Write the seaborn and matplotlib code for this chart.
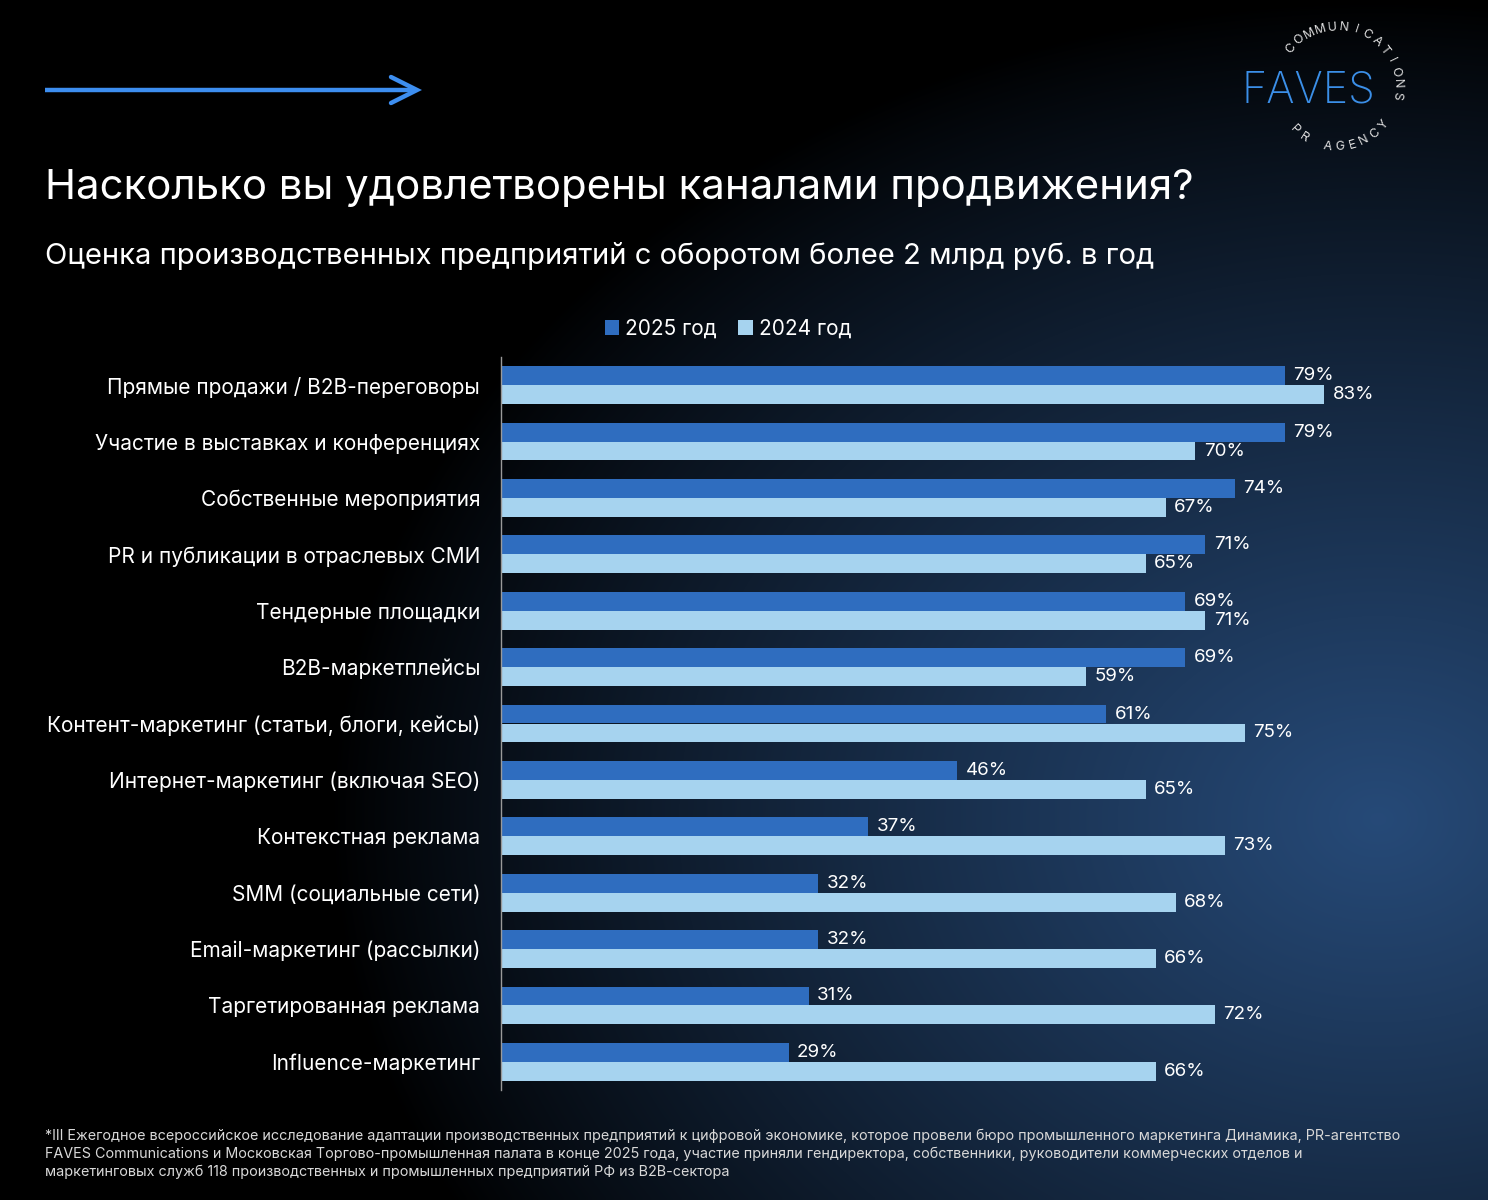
import numpy as np
import pandas as pd
import matplotlib
matplotlib.use("Agg")
import matplotlib.pyplot as plt
import seaborn as sns

channels = [
    "Прямые продажи / B2B-переговоры",
    "Участие в выставках и конференциях",
    "Собственные мероприятия",
    "PR и публикации в отраслевых СМИ",
    "Тендерные площадки",
    "B2B-маркетплейсы",
    "Контент-маркетинг (статьи, блоги, кейсы)",
    "Интернет-маркетинг (включая SEO)",
    "Контекстная реклама",
    "SMM (социальные сети)",
    "Email-маркетинг (рассылки)",
    "Таргетированная реклама",
    "Influence-маркетинг",
]
vals_2025 = [79, 79, 74, 71, 69, 69, 61, 46, 37, 32, 32, 31, 29]
vals_2024 = [83, 70, 67, 65, 71, 59, 75, 65, 73, 68, 66, 72, 66]
years = ["2025 год", "2024 год"]

df = pd.DataFrame({
    "channel": channels * 2,
    "value": vals_2025 + vals_2024,
    "year": [years[0]] * len(channels) + [years[1]] * len(channels),
})

title = "Насколько вы удовлетворены каналами продвижения?"
subtitle = "Оценка производственных предприятий с оборотом более 2 млрд руб. в год"
footnote = [
    "*III Ежегодное всероссийское исследование адаптации производственных предприятий к цифровой экономике, которое провели бюро промышленного маркетинга Динамика, PR-агентство",
    "FAVES Communications и Московская Торгово-промышленная палата в конце 2025 года, участие приняли гендиректора, собственники, руководители коммерческих отделов и",
    "маркетинговых служб 118 производственных и промышленных предприятий РФ из B2B-сектора",
]

sns.set_theme(style="white")
plt.rcParams["font.family"] = ["Inter", "DejaVu Sans"]

W, H = 1488, 1200
fig = plt.figure(figsize=(W / 100, H / 100), dpi=100)
fig.patch.set_facecolor("black")

# background glow
bg = fig.add_axes([0, 0, 1, 1])
xs = np.linspace(0, W, 372)
ys = np.linspace(0, H, 300)
gx, gy = np.meshgrid(xs, ys)
d = np.sqrt(((gx - 1380) / 1050) ** 2 + ((gy - 820) / 820) ** 2)
t = np.clip(1 - d, 0, 1) ** 0.85
glow = np.array([0.15, 0.29, 0.47])
img = t[..., None] * glow
bg.imshow(img, extent=(0, W, H, 0), aspect="auto", interpolation="bilinear")
bg.set_xlim(0, W)
bg.set_ylim(H, 0)
bg.axis("off")

# arrow
arrow_c = "#3d8ef0"
bg.plot([45, 416], [90, 90], color=arrow_c, lw=3.2, solid_capstyle="butt")
bg.plot([391, 417, 391], [77, 90, 103], color=arrow_c, lw=3.2,
        solid_capstyle="round", solid_joinstyle="miter")

# logo
bg.text(1308, 91, "FAVES", color="#3b8fe8", fontsize=31, ha="center",
        va="center", fontweight="light")
cx, cy, r = 1337, 87, 60
top = "COMMUNICATIONS"
for i, ch in enumerate(top):
    a = np.deg2rad(140 - i * 11.4)
    bg.text(cx + r * np.cos(a), cy - r * np.sin(a), ch, color="#e0e0e0",
            fontsize=9, ha="center", va="center",
            rotation=np.rad2deg(a) - 90)
bottom = "PR AGENCY"
for i, ch in enumerate(bottom):
    a = np.deg2rad(225 + i * 12)
    bg.text(cx + r * np.cos(a), cy - r * np.sin(a), ch, color="#e0e0e0",
            fontsize=9, ha="center", va="center",
            rotation=np.rad2deg(a) + 90)

# titles
bg.text(45, 188, title, color="white", fontsize=30.2, va="center", ha="left")
bg.text(45, 256, subtitle, color="white", fontsize=21, va="center", ha="left")
for k, line in enumerate(footnote):
    bg.text(45, 1136 + 18 * k, line, color="#d8d8d8", fontsize=10.35,
            va="center", ha="left")

# main chart
ax = fig.add_axes([501 / W, 1 - 1090 / H, 900 / W, 733 / H])
ax.set_facecolor("none")
sns.barplot(data=df, y="channel", x="value", hue="year",
            palette=["#2f6dbf", "#a6d3ef"], width=0.67, orient="h",
            saturation=1, linewidth=0, ax=ax)
handles, labels = ax.get_legend_handles_labels()
ax.get_legend().remove()

for cont in ax.containers:
    txts = ax.bar_label(cont, fmt="{:.0f}%", padding=6, color="white",
                        fontsize=13.5)
    for tx in txts:
        tx.set_va("center")

ax.set_xlim(0, 900 / 9.92)
ax.set_xlabel("")
ax.set_ylabel("")
ax.set_xticks([])
ax.tick_params(axis="y", length=0, pad=15, labelsize=15.0, labelcolor="white")
for s in ["top", "right", "bottom"]:
    ax.spines[s].set_visible(False)
ax.spines["left"].set_color("#9a9a9a")
ax.spines["left"].set_linewidth(1)

fig.legend(handles, labels, loc="center", bbox_to_anchor=(728 / W, 1 - 329 / H),
           ncol=2, frameon=False, handlelength=0.7, handleheight=0.7,
           columnspacing=1.0, handletextpad=0.3, labelcolor="white",
           fontsize=15)

fig.savefig("out.png", dpi=100, facecolor=fig.get_facecolor())
